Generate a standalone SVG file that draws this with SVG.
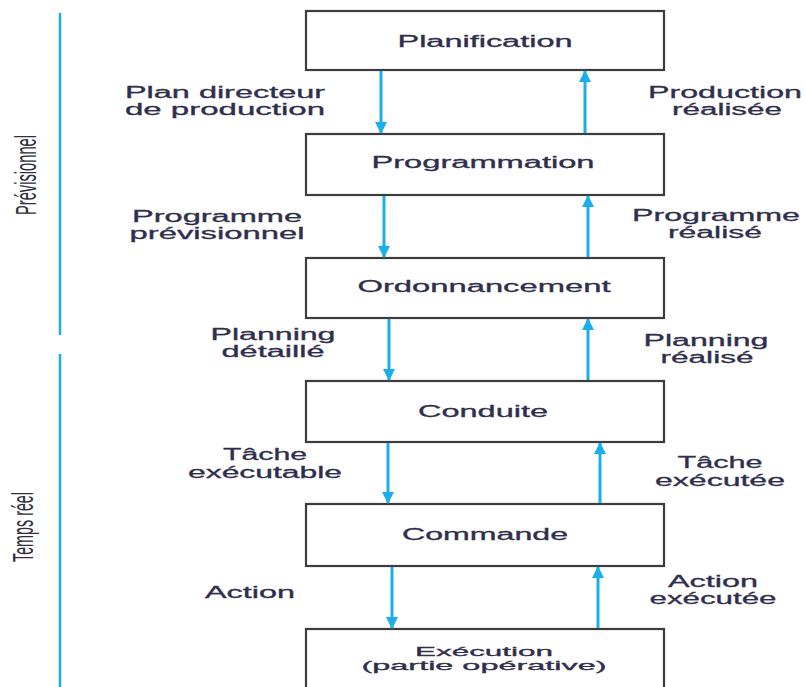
<svg xmlns="http://www.w3.org/2000/svg" width="806" height="687" viewBox="0 0 806 687">
<style>
.box{fill:#ffffff;stroke:#3c3c3c;stroke-width:2.2}
.t{font-family:"Liberation Sans",Arial,sans-serif;font-size:16px;fill:#2f2f4d;stroke:#2f2f4d;stroke-width:0.3;text-anchor:middle}
.t2{font-family:"Liberation Sans",Arial,sans-serif;font-size:13px;fill:#2f2f4d;stroke:#2f2f4d;stroke-width:0.3;text-anchor:middle}
.lbl{font-family:"Liberation Sans",Arial,sans-serif;font-size:16px;fill:#2f2f4d;stroke:#2f2f4d;stroke-width:0.3;text-anchor:middle}
.side{font-family:"Liberation Sans",Arial,sans-serif;font-size:14px;fill:#2f2f3f;text-anchor:middle}
.arr{stroke:#1aaeea;stroke-width:3;fill:none;marker-end:url(#ah)}
.bar{stroke:#1aaeea;stroke-width:2.5;fill:none}
</style>
<defs>
<marker id="ah" viewBox="0 0 12 12" refX="11" refY="6" markerWidth="12" markerHeight="12" markerUnits="userSpaceOnUse" orient="auto">
<path d="M0,0 L12,6 L0,12 z" fill="#1aaeea"/>
</marker>
</defs>
<rect width="806" height="687" fill="#ffffff"/>

<g id="phases">
<line class="bar" x1="60" y1="13" x2="60" y2="335"/>
<line class="bar" x1="60" y1="354" x2="60" y2="687"/>
<text class="side" transform="translate(36,175) rotate(-90) scale(1,2.1)" textLength="80" lengthAdjust="spacingAndGlyphs">Prévisionnel</text>
<text class="side" transform="translate(33,527) rotate(-90) scale(1,2.1)" textLength="70" lengthAdjust="spacingAndGlyphs">Temps réel</text>
</g>

<g id="planification">
<rect class="box" x="306" y="11" width="358" height="59"/>
<text class="t" x="485" y="47" textLength="175" lengthAdjust="spacingAndGlyphs">Planification</text>
</g>
<g id="programmation">
<rect class="box" x="306" y="134" width="358" height="61"/>
<text class="t" x="483" y="168" textLength="223" lengthAdjust="spacingAndGlyphs">Programmation</text>
</g>
<g id="ordonnancement">
<rect class="box" x="306" y="258" width="358" height="60"/>
<text class="t" x="484" y="292" textLength="253" lengthAdjust="spacingAndGlyphs">Ordonnancement</text>
</g>
<g id="conduite">
<rect class="box" x="306" y="381" width="358" height="61"/>
<text class="t" x="483" y="417" textLength="130" lengthAdjust="spacingAndGlyphs">Conduite</text>
</g>
<g id="commande">
<rect class="box" x="306" y="504" width="358" height="62"/>
<text class="t" x="485" y="540" textLength="166" lengthAdjust="spacingAndGlyphs">Commande</text>
</g>
<g id="execution">
<rect class="box" x="306" y="629" width="358" height="80"/>
<text class="t2" x="484" y="656" textLength="138" lengthAdjust="spacingAndGlyphs">Exécution</text>
<text class="t2" x="484" y="670" textLength="245" lengthAdjust="spacingAndGlyphs">(partie opérative)</text>
</g>

<g id="connectors">
<line class="arr" x1="381" y1="71" x2="381" y2="133"/>
<line class="arr" x1="585" y1="133" x2="585" y2="71"/>
<line class="arr" x1="384" y1="196" x2="384" y2="257"/>
<line class="arr" x1="588" y1="257" x2="588" y2="196"/>
<line class="arr" x1="389" y1="319" x2="389" y2="380"/>
<line class="arr" x1="588" y1="380" x2="588" y2="319"/>
<line class="arr" x1="388" y1="443" x2="388" y2="503"/>
<line class="arr" x1="600" y1="503" x2="600" y2="443"/>
<line class="arr" x1="392" y1="567" x2="392" y2="628"/>
<line class="arr" x1="598" y1="628" x2="598" y2="567"/>
</g>

<g id="labels">
<text class="lbl" x="225" y="98" textLength="200" lengthAdjust="spacingAndGlyphs">Plan directeur</text>
<text class="lbl" x="225" y="115" textLength="200" lengthAdjust="spacingAndGlyphs">de production</text>
<text class="lbl" x="217" y="222" textLength="170" lengthAdjust="spacingAndGlyphs">Programme</text>
<text class="lbl" x="217" y="239" textLength="175" lengthAdjust="spacingAndGlyphs">prévisionnel</text>
<text class="lbl" x="273" y="340" textLength="125" lengthAdjust="spacingAndGlyphs">Planning</text>
<text class="lbl" x="273" y="357" textLength="103" lengthAdjust="spacingAndGlyphs">détaillé</text>
<text class="lbl" x="265" y="460" textLength="84" lengthAdjust="spacingAndGlyphs">Tâche</text>
<text class="lbl" x="265" y="478" textLength="154" lengthAdjust="spacingAndGlyphs">exécutable</text>
<text class="lbl" x="250" y="598" textLength="90" lengthAdjust="spacingAndGlyphs">Action</text>

<text class="lbl" x="725" y="98" textLength="154" lengthAdjust="spacingAndGlyphs">Production</text>
<text class="lbl" x="727" y="115" textLength="110" lengthAdjust="spacingAndGlyphs">réalisée</text>
<text class="lbl" x="716" y="221" textLength="168" lengthAdjust="spacingAndGlyphs">Programme</text>
<text class="lbl" x="715" y="238" textLength="94" lengthAdjust="spacingAndGlyphs">réalisé</text>
<text class="lbl" x="706" y="346" textLength="125" lengthAdjust="spacingAndGlyphs">Planning</text>
<text class="lbl" x="707" y="363" textLength="93" lengthAdjust="spacingAndGlyphs">réalisé</text>
<text class="lbl" x="720" y="468" textLength="85" lengthAdjust="spacingAndGlyphs">Tâche</text>
<text class="lbl" x="720" y="486" textLength="130" lengthAdjust="spacingAndGlyphs">exécutée</text>
<text class="lbl" x="713" y="587" textLength="90" lengthAdjust="spacingAndGlyphs">Action</text>
<text class="lbl" x="713" y="604" textLength="127" lengthAdjust="spacingAndGlyphs">exécutée</text>
</g>
</svg>
